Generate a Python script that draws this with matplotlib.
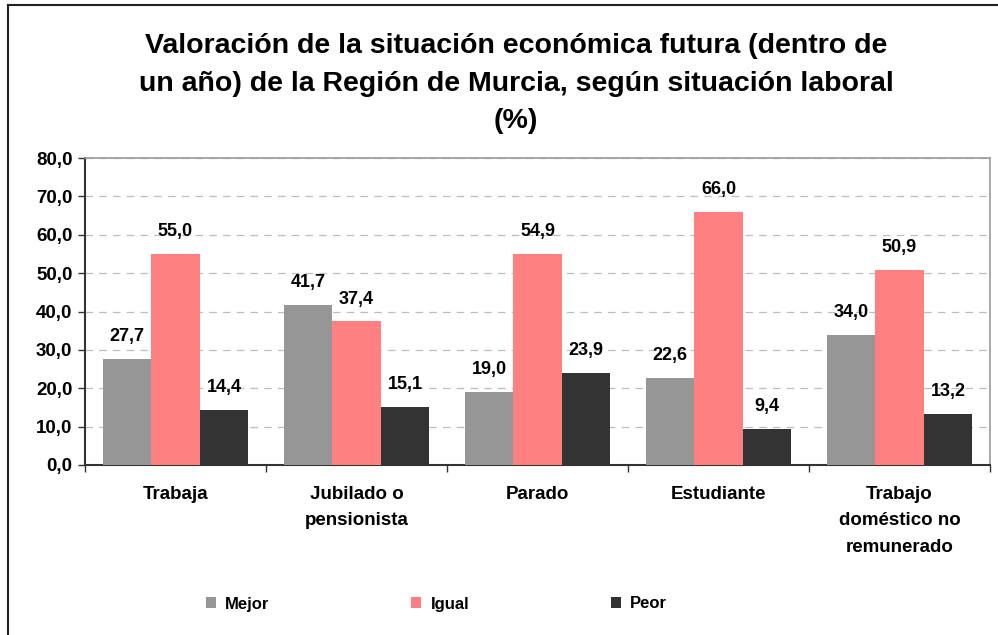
import matplotlib
matplotlib.use("Agg")
import matplotlib.pyplot as plt
import numpy as np
from matplotlib.lines import Line2D
from matplotlib.patches import Patch

plt.rcParams['font.family'] = ['Liberation Sans', 'DejaVu Sans']

categories = ["Trabaja", "Jubilado o\npensionista", "Parado", "Estudiante",
              "Trabajo\ndoméstico no\nremunerado"]
series_names = ["Mejor", "Igual", "Peor"]
mejor = [27.7, 41.7, 19.0, 22.6, 34.0]
igual = [55.0, 37.4, 54.9, 66.0, 50.9]
peor = [14.4, 15.1, 23.9, 9.4, 13.2]
colors = ["#969696", "#FF8080", "#333333"]
title = ("Valoración de la situación económica futura (dentro de\n"
         "un año) de la Región de Murcia, según situación laboral\n(%)")

W, H = 998, 635
fig = plt.figure(figsize=(W / 100, H / 100), dpi=100)
ax = fig.add_axes([85 / W, 1 - 465 / H, (990 - 85) / W, (465 - 158) / H])

x = np.arange(len(categories))
bw = 0.268
for i, (vals, c) in enumerate(zip([mejor, igual, peor], colors)):
    pos = x + (i - 1) * bw
    bars = ax.bar(pos, vals, width=bw, color=c, label=series_names[i], zorder=3)
    for b, v in zip(bars, vals):
        ax.annotate(f"{v:.1f}".replace(".", ","), (b.get_x() + b.get_width() / 2, v),
                    xytext=(0, 10), textcoords="offset points", ha="center", va="bottom",
                    fontsize=13, fontweight="bold", color="black")

ax.set_xlim(-0.5, len(categories) - 0.5)
ax.set_ylim(0, 80)
ax.set_yticks(np.arange(0, 81, 10))
ax.set_yticklabels([f"{t:.1f}".replace(".", ",") for t in np.arange(0, 81, 10)],
                   fontsize=13.5, fontweight="bold")
ax.set_xticks(x)
ax.set_xticklabels(categories, fontsize=13.5, fontweight="bold", linespacing=1.73, va="top")
ax.set_xticks(np.arange(-0.5, len(categories), 1), minor=True)
ax.tick_params(axis="x", which="major", length=0, pad=15)
ax.tick_params(axis="x", which="minor", length=5, width=1, color="#333333", direction="out")
ax.tick_params(axis="y", length=5, width=1, color="#333333", pad=4)

ax.yaxis.grid(True, color="#BDBDBD", linestyle=(0, (6, 5)), linewidth=0.9, zorder=0)
ax.set_axisbelow(True)
for s in ["left", "bottom"]:
    ax.spines[s].set_color("#333333")
    ax.spines[s].set_linewidth(1.5)
for s in ["top", "right"]:
    ax.spines[s].set_color("#999999")
    ax.spines[s].set_linewidth(1.2)

fig.text(516 / W, 1 - 33 / H, title, ha="center", va="top", fontsize=20.5,
         fontweight="bold", linespacing=1.58)

handles = [Patch(facecolor=c, edgecolor="none") for c in colors]
leg = fig.legend(handles, series_names, loc="center left",
                 bbox_to_anchor=(191 / W, 1 - 604 / H), ncol=3, frameon=False,
                 handlelength=0.6, handleheight=0.6, handletextpad=0.55,
                 columnspacing=8.5, prop={"weight": "bold", "size": 12})

# outer chart frame (top and left edges visible)
fig.add_artist(Line2D([8 / W, 1], [1 - 5 / H, 1 - 5 / H], color="#222222", lw=1.5,
                      transform=fig.transFigure))
fig.add_artist(Line2D([8 / W, 8 / W], [0, 1 - 5 / H], color="#222222", lw=1.5,
                      transform=fig.transFigure))

fig.savefig("out.png", dpi=100)
